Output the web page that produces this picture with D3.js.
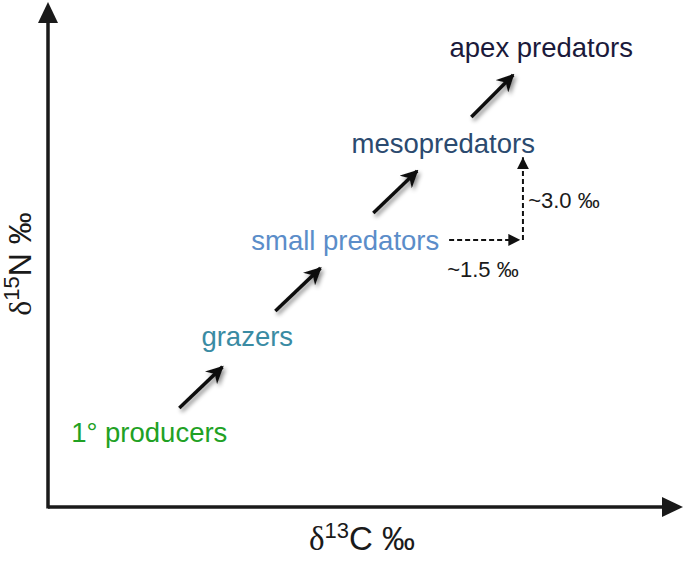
<!DOCTYPE html>
<html lang="en">
<head>
  <meta charset="utf-8">
  <script src="https://d3js.org/d3.v7.min.js"></script>
  <style>
    body { margin: 0; background: #fff; }
    text { font-family: "Liberation Sans", Arial, sans-serif; }
  </style>
</head>
<body>
  <svg width="685" height="561" id="chart"></svg>
  <script>
    // trophic levels: position in (d13C, d15N) space, relative to 1° producers
    let levels = ["1° producers", "grazers", "small predators", "mesopredators", "apex predators"];
    let levelColors = ["#21a124", "#3a8ba3", "#5b8dc9", "#2b4a6f", "#1b1a3b"];
    let d13C = [0, 1.5, 3.0, 4.5, 6.0];
    let d15N = [0, 3.0, 6.0, 9.0, 12.0];

    // solid arrows between levels [x1, y1, x2, y2] in the same units
    let stepArrows = [
      [0.46, 1.06, 1.12, 2.34],
      [1.93, 4.08, 2.62, 5.42],
      [3.43, 7.14, 4.10, 8.45],
      [4.93, 10.13, 5.57, 11.44]
    ];

    // dashed enrichment arrows and their labels
    let enrichArrows = [
      [4.59, 6.30, 5.68, 6.30],
      [5.72, 6.30, 5.72, 8.88]
    ];
    let enrichLabels = ["~1.5 ‰", "~3.0 ‰"];
    let enrichLabelPos = [[4.56, 5.14], [5.80, 7.29]];

    let svg = d3.select("#chart");

    let x = d3.scaleLinear().domain([-1.55, 8.17]).range([48, 683]);
    let y = d3.scaleLinear().domain([-2.03, 13.72]).range([507, 2]);

    let defs = svg.append("defs");

    let shadow = defs.append("filter").attr("id", "shadow")
      .attr("x", "-50%").attr("y", "-50%").attr("width", "200%").attr("height", "200%");
    shadow.append("feDropShadow")
      .attr("dx", 2).attr("dy", 3).attr("stdDeviation", 2)
      .attr("flood-color", "#000").attr("flood-opacity", 0.45);

    defs.append("marker").attr("id", "stealth")
      .attr("viewBox", "0 0 10 10").attr("refX", 9).attr("refY", 5)
      .attr("markerWidth", 5).attr("markerHeight", 5)
      .attr("markerUnits", "strokeWidth").attr("orient", "auto")
      .append("path").attr("d", "M0,0 L10,5 L0,10 L3,5 Z").attr("fill", "#111");

    defs.append("marker").attr("id", "tri")
      .attr("viewBox", "0 0 10 10").attr("refX", 10).attr("refY", 5)
      .attr("markerWidth", 6).attr("markerHeight", 6)
      .attr("markerUnits", "strokeWidth").attr("orient", "auto")
      .append("path").attr("d", "M0,0 L10,5 L0,10 Z").attr("fill", "#111");

    // axes with arrowheads
    let x0 = x.range()[0], xEnd = x.range()[1];
    let y0 = y.range()[0], yEnd = y.range()[1];
    let head = 21, half = 10;
    let axes = svg.append("g");
    axes.append("line")
      .attr("x1", x0).attr("y1", y0 + 1.5).attr("x2", x0).attr("y2", yEnd + head)
      .attr("stroke", "#1a1a1a").attr("stroke-width", 3.5);
    axes.append("line")
      .attr("x1", x0).attr("y1", y0).attr("x2", xEnd - head).attr("y2", y0)
      .attr("stroke", "#1a1a1a").attr("stroke-width", 3.5);
    axes.append("path")
      .attr("d", `M${x0},${yEnd} L${x0 - half},${yEnd + head} L${x0 + half},${yEnd + head} Z`)
      .attr("fill", "#1a1a1a");
    axes.append("path")
      .attr("d", `M${xEnd},${y0} L${xEnd - head},${y0 - half} L${xEnd - head},${y0 + half} Z`)
      .attr("fill", "#1a1a1a");

    // axis titles
    let xt = svg.append("text")
      .attr("x", 362).attr("y", 550)
      .attr("text-anchor", "middle").attr("font-size", 33).attr("fill", "#1a1a1a");
    xt.append("tspan").attr("font-family", "Liberation Serif, serif").text("δ");
    xt.append("tspan").attr("font-size", 22).attr("dy", -12).text("13");
    xt.append("tspan").attr("dy", 12).text("C ‰");

    let yt = svg.append("text")
      .attr("transform", "translate(31,264) rotate(-90)")
      .attr("text-anchor", "middle").attr("font-size", 32).attr("fill", "#1a1a1a");
    yt.append("tspan").attr("font-family", "Liberation Serif, serif").text("δ");
    yt.append("tspan").attr("font-size", 22).attr("dy", -12).text("15");
    yt.append("tspan").attr("dy", 12).text("N ‰");

    // level labels
    svg.append("g").selectAll("text").data(levels).join("text")
      .attr("x", (d, i) => x(d13C[i]))
      .attr("y", (d, i) => y(d15N[i]))
      .attr("text-anchor", "middle")
      .attr("font-size", 27.5)
      .attr("fill", (d, i) => levelColors[i])
      .text(d => d);

    // step arrows
    svg.append("g").attr("filter", "url(#shadow)")
      .selectAll("line").data(stepArrows).join("line")
      .attr("x1", d => x(d[0])).attr("y1", d => y(d[1]))
      .attr("x2", d => x(d[2])).attr("y2", d => y(d[3]))
      .attr("stroke", "#111").attr("stroke-width", 3.5)
      .attr("marker-end", "url(#stealth)");

    // dashed enrichment arrows
    svg.append("g").selectAll("line").data(enrichArrows).join("line")
      .attr("x1", d => x(d[0])).attr("y1", d => y(d[1]))
      .attr("x2", d => x(d[2])).attr("y2", d => y(d[3]))
      .attr("stroke", "#111").attr("stroke-width", 2)
      .attr("stroke-dasharray", "5,3")
      .attr("marker-end", "url(#tri)");

    svg.append("g").selectAll("text").data(enrichLabels).join("text")
      .attr("x", (d, i) => x(enrichLabelPos[i][0]))
      .attr("y", (d, i) => y(enrichLabelPos[i][1]))
      .attr("font-size", 22)
      .attr("fill", "#1a1a1a")
      .text(d => d);
  </script>
</body>
</html>
